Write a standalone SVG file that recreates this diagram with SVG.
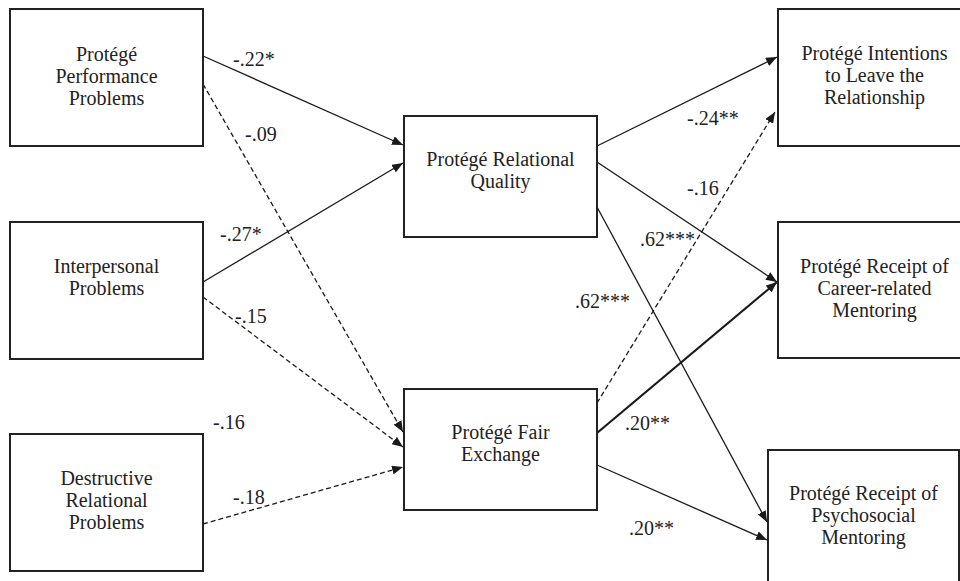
<svg xmlns="http://www.w3.org/2000/svg" width="960" height="581" viewBox="0 0 960 581">
<style>
.box{fill:#fff;stroke:#222;stroke-width:2}
.t{font-family:"Liberation Serif","Times New Roman",serif;font-size:20px;fill:#222;text-anchor:middle}
.lbl{font-family:"Liberation Serif","Times New Roman",serif;font-size:20px;fill:#222}
.c{fill:none;stroke:#1a1a1a;stroke-width:1.3}
.d{stroke-dasharray:5,3}
.thick{stroke-width:2.2}
</style>
<defs>
<marker id="ah" markerUnits="userSpaceOnUse" markerWidth="11" markerHeight="9" refX="11" refY="4.5" orient="auto">
<path d="M0,0 L11,4.5 L0,9 z" fill="#1a1a1a"/>
</marker>
</defs>
<rect width="960" height="581" fill="#fff"/>
<g id="connectors">
<line class="c" x1="203" y1="56" x2="403" y2="145" marker-end="url(#ah)"/>
<line class="c d" x1="203" y1="84" x2="403" y2="432" marker-end="url(#ah)"/>
<line class="c" x1="203" y1="282" x2="403" y2="163" marker-end="url(#ah)"/>
<line class="c d" x1="203" y1="297" x2="403" y2="447" marker-end="url(#ah)"/>
<line class="c d" x1="203" y1="524" x2="403" y2="467" marker-end="url(#ah)"/>
<line class="c" x1="597" y1="146" x2="777" y2="57" marker-end="url(#ah)"/>
<line class="c d" x1="597" y1="403" x2="775" y2="112" marker-end="url(#ah)"/>
<line class="c" x1="597" y1="162" x2="777" y2="282" marker-end="url(#ah)"/>
<line class="c thick" x1="597" y1="433" x2="777" y2="282" marker-end="url(#ah)"/>
<line class="c" x1="597" y1="207" x2="767" y2="522" marker-end="url(#ah)"/>
<line class="c" x1="597" y1="465" x2="767" y2="540" marker-end="url(#ah)"/>
</g>
<g id="labels">
<text class="lbl" x="233" y="66">-.22*</text>
<text class="lbl" x="245" y="141">-.09</text>
<text class="lbl" x="220" y="241">-.27*</text>
<text class="lbl" x="235" y="323">-.15</text>
<text class="lbl" x="213" y="429">-.16</text>
<text class="lbl" x="233" y="504">-.18</text>
<text class="lbl" x="687" y="125">-.24**</text>
<text class="lbl" x="687" y="195">-.16</text>
<text class="lbl" x="640" y="246">.62***</text>
<text class="lbl" x="575" y="308">.62***</text>
<text class="lbl" x="625" y="430">.20**</text>
<text class="lbl" x="629" y="535">.20**</text>
</g>
<g id="perf">
<rect class="box" x="10" y="9" width="193" height="137"/>
<text class="t" x="106.5" y="61">Protégé</text>
<text class="t" x="106.5" y="83">Performance</text>
<text class="t" x="106.5" y="105">Problems</text>
</g>
<g id="interpersonal">
<rect class="box" x="10" y="222" width="193" height="137"/>
<text class="t" x="106.5" y="273">Interpersonal</text>
<text class="t" x="106.5" y="295">Problems</text>
</g>
<g id="destructive">
<rect class="box" x="10" y="434" width="193" height="137"/>
<text class="t" x="106.5" y="485">Destructive</text>
<text class="t" x="106.5" y="507">Relational</text>
<text class="t" x="106.5" y="529">Problems</text>
</g>
<g id="relational">
<rect class="box" x="404" y="116" width="193" height="121"/>
<text class="t" x="500.5" y="166">Protégé Relational</text>
<text class="t" x="500.5" y="188">Quality</text>
</g>
<g id="fair">
<rect class="box" x="404" y="389" width="193" height="121"/>
<text class="t" x="500.5" y="439">Protégé Fair</text>
<text class="t" x="500.5" y="461">Exchange</text>
</g>
<g id="intentions">
<rect class="box" x="778" y="9" width="193" height="137"/>
<text class="t" x="874.5" y="60">Protégé Intentions</text>
<text class="t" x="874.5" y="82">to Leave the</text>
<text class="t" x="874.5" y="104">Relationship</text>
</g>
<g id="career">
<rect class="box" x="778" y="222" width="193" height="136"/>
<text class="t" x="874.5" y="273">Protégé Receipt of</text>
<text class="t" x="874.5" y="295">Career-related</text>
<text class="t" x="874.5" y="317">Mentoring</text>
</g>
<g id="psychosocial">
<rect class="box" x="768" y="450" width="191" height="140"/>
<text class="t" x="863.5" y="500">Protégé Receipt of</text>
<text class="t" x="863.5" y="522">Psychosocial</text>
<text class="t" x="863.5" y="544">Mentoring</text>
</g>
</svg>
